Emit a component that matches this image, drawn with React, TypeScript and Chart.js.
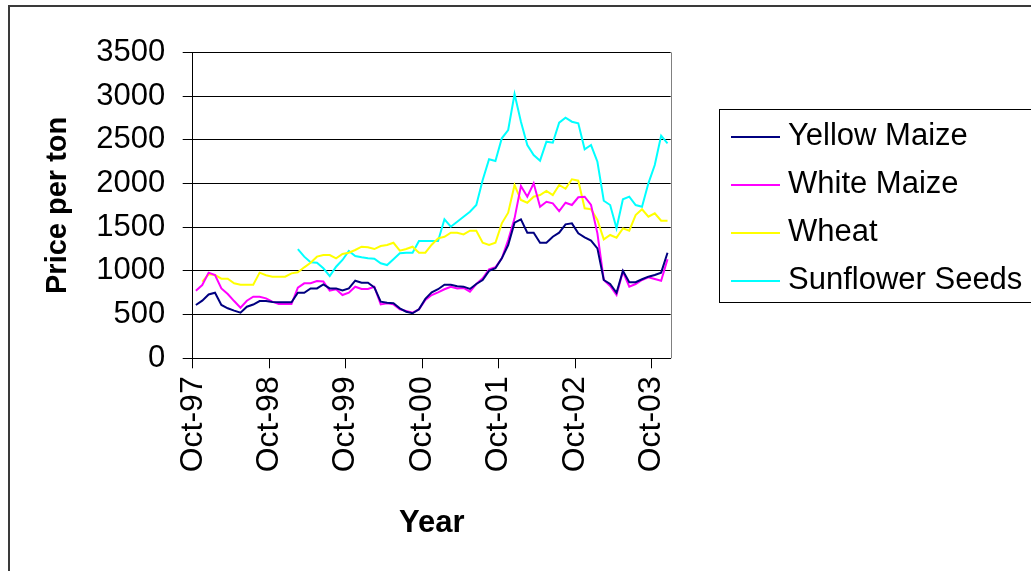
import React, { useEffect, useRef } from 'react';
import { Chart, registerables } from 'chart.js';
import type { Plugin } from 'chart.js';

Chart.register(...registerables);

// monthly categories, Oct-97 .. Dec-03
const months = [
  'Oct-97', 'Nov-97', 'Dec-97',
  'Jan-98', 'Feb-98', 'Mar-98', 'Apr-98', 'May-98', 'Jun-98', 'Jul-98', 'Aug-98', 'Sep-98', 'Oct-98', 'Nov-98', 'Dec-98',
  'Jan-99', 'Feb-99', 'Mar-99', 'Apr-99', 'May-99', 'Jun-99', 'Jul-99', 'Aug-99', 'Sep-99', 'Oct-99', 'Nov-99', 'Dec-99',
  'Jan-00', 'Feb-00', 'Mar-00', 'Apr-00', 'May-00', 'Jun-00', 'Jul-00', 'Aug-00', 'Sep-00', 'Oct-00', 'Nov-00', 'Dec-00',
  'Jan-01', 'Feb-01', 'Mar-01', 'Apr-01', 'May-01', 'Jun-01', 'Jul-01', 'Aug-01', 'Sep-01', 'Oct-01', 'Nov-01', 'Dec-01',
  'Jan-02', 'Feb-02', 'Mar-02', 'Apr-02', 'May-02', 'Jun-02', 'Jul-02', 'Aug-02', 'Sep-02', 'Oct-02', 'Nov-02', 'Dec-02',
  'Jan-03', 'Feb-03', 'Mar-03', 'Apr-03', 'May-03', 'Jun-03', 'Jul-03', 'Aug-03', 'Sep-03', 'Oct-03', 'Nov-03', 'Dec-03',
];

const tickLabels = ['Oct-97', 'Oct-98', 'Oct-99', 'Oct-00', 'Oct-01', 'Oct-02', 'Oct-03'];

const yellowMaize = [
  610, 660, 730, 750, 610, 572, 545, 522, 590, 615, 655, 655,
  645, 640, 640, 640, 750, 750, 800, 800, 846, 800, 800, 775,
  800, 888, 865, 865, 812, 648, 636, 629, 572, 533, 515, 560,
  680, 755, 790, 842, 842, 825, 820, 793, 850, 896, 1000, 1030,
  1144, 1296, 1551, 1590, 1437, 1437, 1322, 1322, 1391, 1437, 1533, 1544,
  1430, 1384, 1346, 1258, 896, 850, 750, 1002, 870, 870, 904, 934,
  953, 980, 1208,
];

const whiteMaize = [
  773, 838, 980, 953, 800, 736, 655, 579, 659, 705, 705, 686,
  648, 621, 621, 621, 808, 858, 858, 884, 880, 773, 789, 724,
  750, 819, 793, 793, 819, 617, 629, 617, 560, 541, 522, 560,
  667, 724, 755, 790, 819, 800, 805, 762, 850, 915, 1018, 1041,
  1144, 1353, 1601, 1971, 1849, 2002, 1734, 1791, 1773, 1685, 1780, 1754,
  1842, 1849, 1754, 1430, 896, 827, 724, 991, 819, 850, 896, 927,
  907, 888, 1133,
];

const wheat = [
  null, 877, 961, 953, 911, 911, 858, 842, 842, 842, 980, 950,
  934, 934, 934, 972, 984, 1041, 1094, 1163, 1182, 1182, 1144, 1193,
  1208, 1239, 1277, 1270, 1250, 1285, 1296, 1322, 1231, 1250, 1277, 1208,
  1208, 1300, 1373, 1391, 1437, 1437, 1418, 1460, 1460, 1322, 1296, 1322,
  1544, 1666, 1983, 1811, 1780, 1849, 1868, 1914, 1868, 1983, 1940, 2048,
  2032, 1716, 1705, 1582, 1361, 1411, 1380, 1487, 1460, 1639, 1705, 1620,
  1659, 1574, 1574,
];

const sunflowerSeeds = [
  null, null, null, null, null, null, null, null, null, null, null, null,
  null, null, null, null, 1250, 1163, 1098, 1094, 1030, 941, 1048, 1125,
  1228, 1170, 1155, 1144, 1140, 1087, 1067, 1133, 1201, 1208, 1208, 1342,
  1342, 1342, 1342, 1590, 1506, 1563, 1620, 1677, 1754, 2040, 2277, 2257,
  2517, 2612, 3024, 2707, 2440, 2326, 2261, 2478, 2467, 2696, 2753, 2707,
  2688, 2391, 2440, 2249, 1803, 1754, 1487, 1819, 1849, 1754, 1734, 2002,
  2211, 2547, 2460,
];

const seriesNames = ['Yellow Maize', 'White Maize', 'Wheat', 'Sunflower Seeds'];
const seriesColors = ['#000080', '#FF00FF', '#FFFF00', '#00FFFF'];

const FONT = '"Liberation Sans", Arial, sans-serif';

const toPoints = (values: (number | null)[]) =>
  values.map((v, i) => ({ x: i, y: v })).filter((p) => p.y !== null);

// gray plot-area border on the right, like the old Excel look
const plotBorder: Plugin = {
  id: 'plotBorder',
  beforeDatasetsDraw(chart) {
    const { ctx, chartArea } = chart;
    ctx.save();
    ctx.strokeStyle = '#808080';
    ctx.lineWidth = 1;
    ctx.beginPath();
    const x = Math.round(chartArea.right) + 0.5;
    ctx.moveTo(x, chartArea.top);
    ctx.lineTo(x, chartArea.bottom);
    ctx.stroke();
    ctx.restore();
  },
};

// boxed legend to the right of the plot
const boxLegend: Plugin = {
  id: 'boxLegend',
  afterDraw(chart) {
    const { ctx } = chart;
    const left = 709.5;
    const top = 102.5;
    ctx.save();
    ctx.strokeStyle = '#000000';
    ctx.lineWidth = 1;
    ctx.strokeRect(left, top, 400, 193);
    ctx.font = `31px ${FONT}`;
    ctx.textBaseline = 'middle';
    ctx.textAlign = 'left';
    chart.data.datasets.forEach((ds, k) => {
      const y = 130 + k * 48;
      ctx.strokeStyle = ds.borderColor as string;
      ctx.lineWidth = 2;
      ctx.beginPath();
      ctx.moveTo(721, y);
      ctx.lineTo(770, y);
      ctx.stroke();
      ctx.fillStyle = '#000000';
      ctx.fillText(ds.label as string, 778, y - 1);
    });
    ctx.restore();
  },
};

export default function App() {
  const canvasRef = useRef<HTMLCanvasElement>(null);

  useEffect(() => {
    if (!canvasRef.current) return;
    const chart = new Chart(canvasRef.current, {
      type: 'line',
      data: {
        datasets: [yellowMaize, whiteMaize, wheat, sunflowerSeeds].map((values, k) => ({
          label: seriesNames[k],
          data: toPoints(values),
          borderColor: seriesColors[k],
          backgroundColor: seriesColors[k],
          borderWidth: 2,
          pointRadius: 0,
          tension: 0,
          fill: false,
        })),
      },
      options: {
        responsive: false,
        animation: false,
        layout: { padding: { top: 45.4, right: 360.3, bottom: 0, left: 0 } },
        plugins: {
          legend: { display: false },
          tooltip: { enabled: false },
        },
        scales: {
          x: {
            type: 'linear',
            min: -0.5,
            max: months.length - 0.5,
            afterBuildTicks: (axis) => {
              axis.ticks = tickLabels.map((_, k) => ({ value: -0.5 + 12 * k }));
            },
            afterFit: (axis) => {
              axis.height = 212.7;
            },
            ticks: {
              autoSkip: false,
              minRotation: 90,
              maxRotation: 90,
              padding: 8,
              color: '#000000',
              font: { family: FONT, size: 32 },
              callback: (_value, index) => tickLabels[index],
            },
            grid: {
              drawOnChartArea: false,
              drawTicks: true,
              tickLength: 10,
              color: '#000000',
            },
            border: { display: true, color: '#000000', width: 1 },
            title: {
              display: true,
              text: 'Year',
              color: '#000000',
              font: { family: FONT, size: 31, weight: 'bold' },
              padding: { top: 0, bottom: 28.5 },
            },
          },
          y: {
            min: 0,
            max: 3500,
            afterFit: (axis) => {
              axis.width = 182.7;
            },
            ticks: {
              stepSize: 500,
              padding: 17.5,
              color: '#000000',
              font: { family: FONT, size: 31 },
              callback: (value) => String(value),
            },
            grid: {
              color: '#000000',
              tickLength: 10,
            },
            border: { display: true, color: '#000000', width: 1 },
            title: {
              display: true,
              text: 'Price per ton',
              color: '#000000',
              font: { family: FONT, size: 29, weight: 'bold' },
              padding: { top: 30.6, bottom: 0 },
            },
          },
        },
      },
      plugins: [plotBorder, boxLegend],
    });
    return () => chart.destroy();
  }, []);

  return (
    <div
      style={{
        position: 'fixed',
        left: 8,
        top: 5,
        width: 1021,
        height: 564,
        borderLeft: '2px solid #3a3a3a',
        borderTop: '2px solid #3a3a3a',
        background: '#ffffff',
      }}
    >
      <canvas ref={canvasRef} width={1021} height={564} style={{ display: 'block' }} />
    </div>
  );
}
